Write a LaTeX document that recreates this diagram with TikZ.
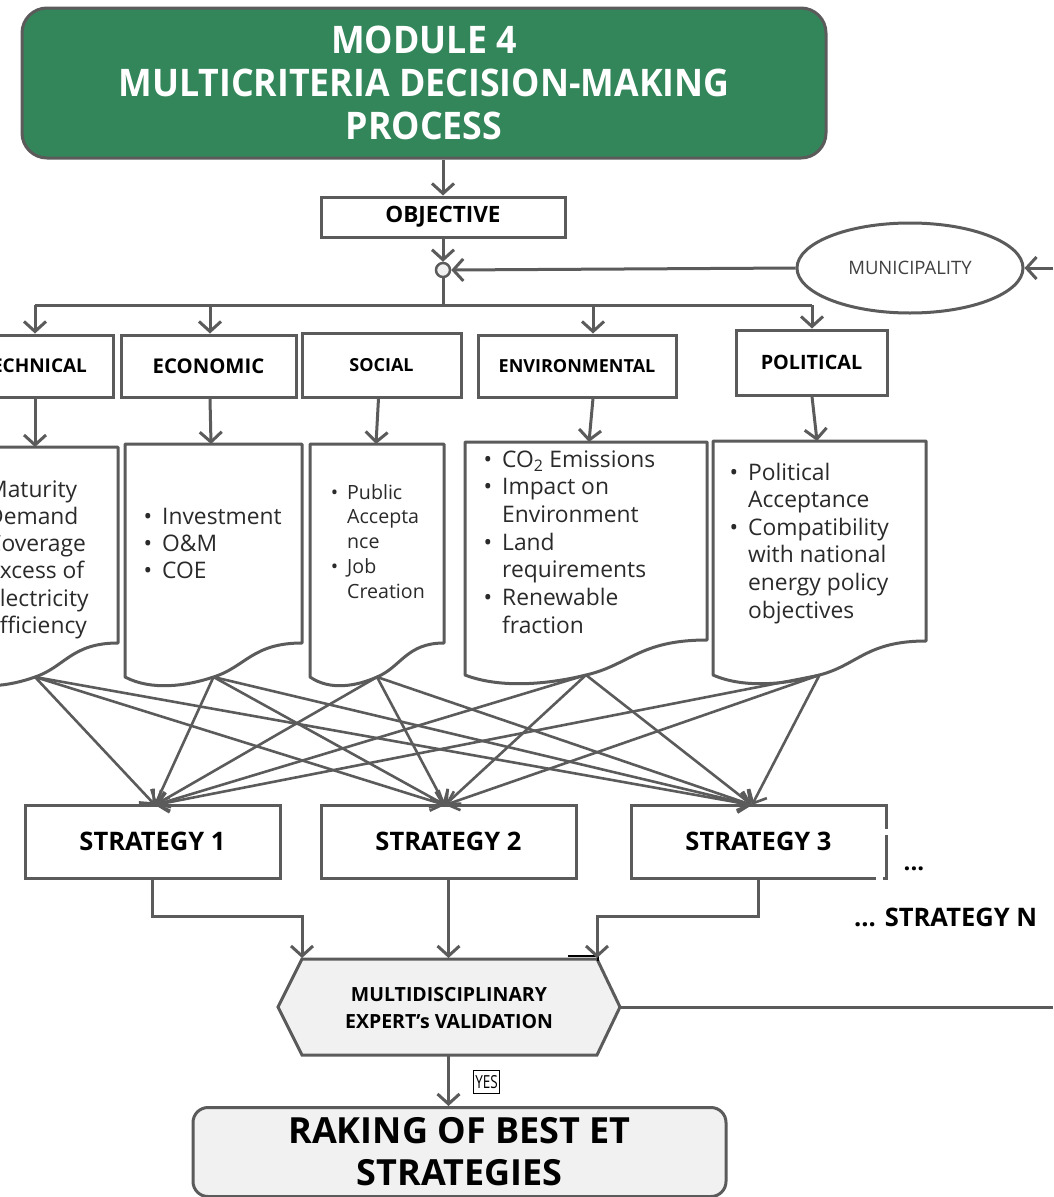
\documentclass[tikz,border=0pt]{standalone}
\usepackage{fontspec}
\setmainfont{Open Sans}
\usetikzlibrary{arrows.meta,shapes.geometric}
\definecolor{lg}{HTML}{5B5B5B}
\definecolor{mgreen}{HTML}{33855A}
\definecolor{lfill}{HTML}{F1F1F1}
\definecolor{txt}{HTML}{2A2A2A}
\newcommand\bul{\llap{\textbullet\hspace{10pt}}}
\newcommand\bulS{\llap{\textbullet\hspace{9pt}}}
\newcommand\fsz[2]{\fontsize{#1}{#2}\selectfont}
\newcommand\cnd[1]{\scalebox{0.94}[1]{#1}}
% name, L, R, T, Rb, Lb, Mb
\newcommand\docshape[7]{%
  \draw[docst] (#2,#4) -- (#3,#4) -- (#3,#5)
    .. controls ({#3-0.28*(#3-(#2))},#5) and ({((#2)+#3)/2+0.18*(#3-(#2))},{#7-10}) .. ({((#2)+#3)/2},#7)
    .. controls ({((#2)+#3)/2-0.15*(#3-(#2))},{#7+9}) and ({(#2)+0.15*(#3-(#2))},{#6+14}) .. (#2,#6) -- cycle;
  \coordinate (#1) at ({((#2)+#3)/2},#7);}
\begin{document}
\begin{tikzpicture}[x=1pt,y=-1pt,
  gl/.style={draw=lg, line width=3pt},
  arr/.style={draw=lg, line width=3pt, -{Straight Barb[length=10pt,width=22pt]}},
  xarr/.style={draw=lg, line width=2.6pt, -{Straight Barb[length=11pt,width=20pt]}},
  catbox/.style={draw=lg, line width=3pt, fill=white, inner sep=0pt, text=black, font={\fsz{18}{22}\bfseries}},
  stratbox/.style={draw=lg, line width=3pt, fill=white, inner sep=0pt, text=black, minimum width=255pt, minimum height=73pt, font={\fsz{25.5}{28}\bfseries}},
  docst/.style={draw=lg, line width=3pt, fill=white, line join=round},
  body/.style={anchor=base west, inner sep=0pt, text=txt, font={\fsz{22.8}{26}}},
  sbody/.style={anchor=base west, inner sep=0pt, text=txt, font={\fsz{19.6}{22}}},
]
\useasboundingbox (0,0) rectangle (1053,1197);
\clip (0,0) rectangle (1053,1197);

% title
\node[draw=lg, line width=3pt, fill=mgreen, rounded corners=25pt, minimum width=804pt, minimum height=150pt,
      text=white, align=center, font={\fsz{38}{43}\bfseries}] (title) at (424,83)
      {\cnd{MODULE 4}\\\cnd{MULTICRITERIA DECISION-MAKING}\\\cnd{PROCESS}};

\node[draw=lg, line width=3pt, fill=white, minimum width=244pt, minimum height=40pt, inner sep=0pt,
      font={\fsz{22.5}{24}\bfseries}] (obj) at (443,217) {OBJECTIVE};
\node[circle, draw=lg, line width=2.5pt, fill=lfill, minimum size=14pt, inner sep=0pt] (junc) at (443,270) {};
\node[ellipse, draw=lg, line width=3pt, fill=white, minimum width=226pt, minimum height=90pt, inner sep=0pt,
      text=black!75, font={\fsz{18.5}{20}}] (muni) at (910,268) {MUNICIPALITY};
\coordinate (rin) at (1053,268);

\draw[arr] (title.south -| obj.north) -- (obj.north);
\draw[arr] (obj.south) -- (junc.north);
\draw[arr] (muni.west) -- (junc.east);
\draw[arr] (rin) -- (muni.east);

% categories
\node[catbox, minimum width=158pt, minimum height=62pt, font={\fsz{19}{22}\bfseries}] (tech) at (34,366) {TECHNICAL};
\node[catbox, minimum width=175pt, minimum height=62pt, font={\fsz{20.3}{22}\bfseries}] (econ) at (208.5,366) {ECONOMIC};
\node[catbox, minimum width=159pt, minimum height=64pt] (soc) at (381.5,365) {SOCIAL};
\node[catbox, minimum width=198pt, minimum height=62pt] (env) at (577,366) {ENVIRONMENTAL};
\node[catbox, minimum width=151pt, minimum height=65pt, font={\fsz{19.8}{22}\bfseries}] (pol) at (811.5,362.5) {POLITICAL};

\coordinate (b1) at (35,305);
\coordinate (b2) at (210,305);
\coordinate (b4) at (593,305);
\coordinate (b5) at (812,305);
\draw[gl] (junc.south) -- (junc.south |- b1);
\draw[gl] (b1) -- (b5);
\draw[arr] (b1) -- (b1 |- tech.north);
\draw[arr] (b2) -- (b2 |- econ.north);
\draw[arr] (b4) -- (b4 |- env.north);
\draw[arr] (b5) -- (b5 |- pol.north);

% documents
\docshape{dtech}{-48}{118}{447}{643}{677}{677}
\docshape{decon}{125}{302}{444}{643}{677}{677}
\docshape{dsoc}{310}{444}{444}{643}{677}{677}
\docshape{denv}{465}{707}{442}{640}{675}{675}
\docshape{dpol}{713}{926}{441}{641}{675}{675}

\coordinate (ttech) at (35,447);
\coordinate (tecon) at (211,444);
\coordinate (tsoc) at (376,444);
\coordinate (tenv) at (589,442);
\coordinate (tpol) at (817,441);
\draw[arr] (tech.south -| ttech) -- (ttech);
\draw[arr] ([xshift=1.5pt]econ.south) -- (tecon);
\draw[arr] ([xshift=-3pt]soc.south) -- (tsoc);
\draw[arr] ([xshift=16pt]env.south) -- (tenv);
\draw[arr] ([xshift=0.5pt]pol.south) -- (tpol);

% document texts
\foreach \t [count=\i from 0] in {{\bul Maturity},{\bul Demand},{\bul Coverage},{\bul Excess of},{\bul Electricity},{\bul Efficiency}}
  \node[body] (techt\i) at (-13,{497+27.3*\i}) {\t};
\foreach \t [count=\i from 0] in {{\bul Investment},{\bul O\&M},{\bul COE}}
  \node[body] (econt\i) at (162,{524+27.3*\i}) {\t};
\foreach \t [count=\i from 0] in {{\bulS Public},{Accepta},{nce},{\bulS Job},{Creation}}
  \node[sbody] (soct\i) at (347,{499+24.8*\i}) {\t};
\foreach \t [count=\i from 0] in {{\bul CO\textsubscript{2} Emissions},{\bul Impact on},{Environment},{\bul Land},{requirements},{\bul Renewable},{fraction}}
  \node[body] (envt\i) at (502,{467+27.7*\i}) {\t};
\foreach \t [count=\i from 0] in {{\bul Political},{Acceptance},{\bul Compatibility},{with national},{energy policy},{objectives}}
  \node[body] (polt\i) at (748,{480+27.6*\i}) {\t};

% strategies
\node[stratbox] (s1) at (152.5,841.5) {STRATEGY 1};
\node[stratbox] (s2) at (448.5,841.5) {STRATEGY 2};
\node[stratbox] (s3) at (758.5,841.5) {STRATEGY 3};
\fill[white] (883,829) rectangle (892,835);
\fill[white] (876,874) rectangle (883,882);
\node[inner sep=0pt, font={\fsz{24}{24}\bfseries}] (dots) at (914,869) {...};
\node[inner sep=0pt, anchor=west, font={\fsz{25.5}{28}\bfseries}] (stratN) at (854,917) {... STRATEGY N};

\coordinate (s1in) at (155,805);
\coordinate (s2in) at (445,805);
\coordinate (s3in) at (752,805);
\foreach \d in {dtech,decon,dsoc,denv,dpol}
  \foreach \s in {s1in,s2in,s3in}
    \draw[xarr] (\d) -- (\s);

% validation
\draw[gl, fill=lfill, line join=miter] (302,959) -- (597,959) -- (620,1007) -- (597,1055) -- (302,1055) -- (278,1007) -- cycle;
\node[align=center, inner sep=0pt, font={\fsz{19.5}{27}\bfseries}] (val) at (449,1008) {MULTIDISCIPLINARY\\EXPERT’s VALIDATION};
\coordinate (v1) at (302,958);
\coordinate (v2) at (448.5,958);
\coordinate (v3) at (597,958);
\coordinate (valE) at (620,1007);
\coordinate (valS) at (448.5,1055);
\coordinate (rout) at (1053,1007);
\draw[black, line width=2pt] (568,956) -- (598,956) -- (598,961);
\draw[arr] (s1.south) -- ++(0,37) -| (v1);
\draw[arr] (s2.south) -- (v2);
\draw[arr] (s3.south) -- ++(0,37) -| (v3);
\draw[gl] (valE) -- (rout);

% ranking
\node[draw=lg, line width=3pt, fill=lfill, rounded corners=15pt, minimum width=533pt, minimum height=89pt,
      align=center, font={\fsz{36}{42}\bfseries}] (rank) at (459.5,1152) {RAKING OF BEST ET\\STRATEGIES};
\draw[arr] (valS) -- (valS |- rank.north);
\node[draw=black, line width=0.8pt, inner xsep=2pt, inner ysep=5pt, font={\fsz{18}{18}}] (yes) at (486.5,1082) {\scalebox{0.75}[1]{YES}};
\end{tikzpicture}
\end{document}
